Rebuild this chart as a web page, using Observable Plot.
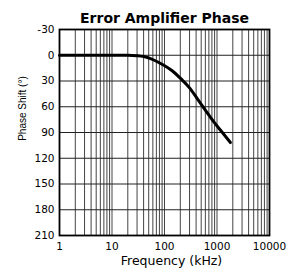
<!DOCTYPE html>
<html><head><meta charset="utf-8">
<script src="https://cdn.jsdelivr.net/npm/d3@7"></script>
<script src="https://cdn.jsdelivr.net/npm/@observablehq/plot@0.6"></script>
<style>body{margin:0;background:#fff}</style>
</head><body><div id="chart"></div>
<script>
const freq  = [1, 10, 20, 30, 40, 54, 70, 97, 140, 202, 300, 420, 600, 870, 1200, 1800];
const phase = [0, 0, 0, 0.5, 1.5, 4, 7, 11.6, 18, 27, 38, 50.5, 64, 77.7, 88.3, 101.7];
const xTicks = [1, 10, 100, 1000, 10000];
const yTicks = [-30, 0, 30, 60, 90, 120, 150, 180, 210];
const title = "Error Amplifier Phase";
const xLabel = "Frequency (kHz)";
const yLabel = "Phase Shift (°)";

const minor = [];
for (const d of [1, 10, 100, 1000]) for (let k = 1; k <= 9; k++) minor.push(d * k);
const data = freq.map((f, i) => ({f, p: phase[i]}));

const chart = Plot.plot({
  width: 294, height: 272,
  marginLeft: 59, marginRight: 25, marginTop: 29, marginBottom: 37,
  style: {fontFamily: "DejaVu Sans, sans-serif", fontSize: "10.5px", color: "#000", background: "#fff"},
  x: {type: "log", domain: [1, 10000], ticks: xTicks, tickFormat: d => String(d), tickSize: 0, tickPadding: 7, label: null},
  y: {domain: [-30, 210], reverse: true, ticks: yTicks, tickFormat: d => String(d), tickSize: 0, tickPadding: 5, label: null},
  marks: [
    Plot.ruleX(minor, {stroke: "#444", strokeWidth: 1}),
    Plot.ruleY(yTicks, {stroke: "#222", strokeWidth: 1}),
    Plot.line(data, {x: "f", y: "p", stroke: "#000", strokeWidth: 3, curve: "monotone-x"}),
    Plot.frame({stroke: "#000", strokeWidth: 1.8}),
    Plot.text([title], {frameAnchor: "top", dy: -16, fontWeight: "bold", fontSize: 14}),
    Plot.text([xLabel], {frameAnchor: "bottom", dx: 7, dy: 29, fontSize: 12.5}),
    Plot.text([yLabel], {frameAnchor: "left", textAnchor: "middle", dx: -37, dy: -24, rotate: -90, fontSize: 10, fontFamily: "Liberation Sans, Arial, sans-serif"})
  ]
});
document.getElementById("chart").appendChild(chart);
</script></body></html>
